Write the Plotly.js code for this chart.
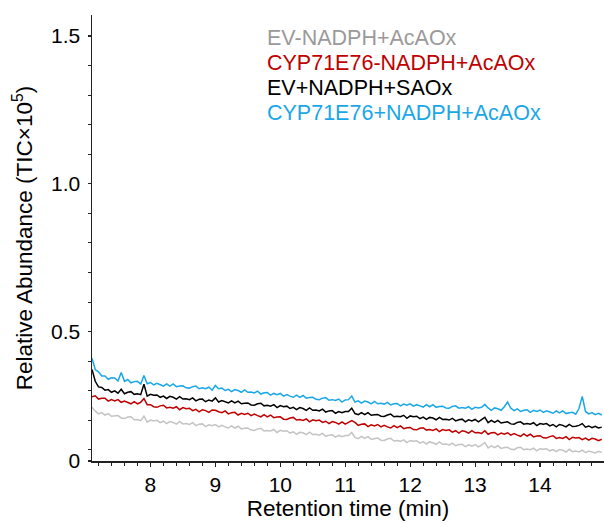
<!DOCTYPE html>
<html>
<head>
<meta charset="utf-8">
<script src="https://cdn.plot.ly/plotly-3.0.1.min.js"></script>
<style>html,body{margin:0;padding:0;background:#fff;}#chart{width:604px;height:523px;}</style>
</head>
<body>
<div id="chart"></div>
<script>
// Retention time grid: first point and step (min)
const timeStart = 7.10;
const timeStep = 0.05;

const seriesNames = ["EV-NADPH+AcAOx", "CYP71E76-NADPH+AcAOx", "EV+NADPH+SAOx", "CYP71E76+NADPH+AcAOx"];

// Relative abundance (TIC x 10^5), one value every 0.05 min from 7.10 min
const evNoNadph = [
  0.244,0.231,0.222,0.226,0.218,0.223,0.214,0.216,0.216,0.208,
  0.206,0.211,0.212,0.202,0.203,0.199,0.214,0.194,0.201,0.198,
  0.200,0.192,0.197,0.189,0.196,0.193,0.187,0.196,0.188,0.189,
  0.186,0.192,0.182,0.187,0.188,0.179,0.185,0.182,0.186,0.178,
  0.183,0.178,0.174,0.181,0.174,0.180,0.171,0.173,0.174,0.167,
  0.166,0.171,0.173,0.164,0.166,0.164,0.169,0.159,0.166,0.163,
  0.165,0.157,0.161,0.153,0.160,0.158,0.152,0.160,0.152,0.153,
  0.150,0.156,0.146,0.150,0.151,0.143,0.149,0.145,0.149,0.149,
  0.159,0.142,0.138,0.146,0.139,0.145,0.136,0.138,0.140,0.133,
  0.132,0.137,0.139,0.130,0.132,0.129,0.134,0.125,0.132,0.129,
  0.131,0.123,0.128,0.120,0.127,0.124,0.119,0.127,0.119,0.120,
  0.117,0.123,0.114,0.118,0.119,0.111,0.117,0.113,0.118,0.110,
  0.116,0.125,0.107,0.114,0.108,0.114,0.105,0.108,0.109,0.102,
  0.101,0.107,0.109,0.101,0.103,0.101,0.106,0.097,0.104,0.102,
  0.104,0.097,0.101,0.094,0.101,0.099,0.093,0.102,0.094,0.096,
  0.093,0.099,0.091,0.096,0.094,0.090,0.095,0.091
];
const cypNoNadph = [
  0.280,0.283,0.272,0.275,0.275,0.265,0.270,0.266,0.270,0.261,
  0.265,0.260,0.256,0.263,0.256,0.261,0.274,0.253,0.253,0.246,
  0.244,0.249,0.251,0.242,0.244,0.241,0.246,0.236,0.243,0.239,
  0.241,0.233,0.237,0.229,0.236,0.233,0.227,0.235,0.234,0.229,
  0.226,0.232,0.222,0.226,0.227,0.218,0.224,0.220,0.224,0.216,
  0.221,0.216,0.212,0.219,0.212,0.218,0.209,0.211,0.212,0.204,
  0.203,0.208,0.210,0.201,0.203,0.200,0.205,0.195,0.202,0.199,
  0.201,0.193,0.197,0.189,0.196,0.193,0.187,0.195,0.187,0.193,
  0.199,0.193,0.183,0.187,0.188,0.179,0.185,0.181,0.186,0.178,
  0.183,0.178,0.174,0.182,0.175,0.181,0.172,0.175,0.176,0.169,
  0.168,0.173,0.175,0.167,0.169,0.166,0.171,0.162,0.169,0.166,
  0.168,0.160,0.165,0.157,0.165,0.162,0.157,0.165,0.158,0.159,
  0.156,0.165,0.153,0.158,0.159,0.151,0.157,0.153,0.158,0.150,
  0.155,0.150,0.146,0.154,0.147,0.153,0.144,0.147,0.148,0.141,
  0.140,0.145,0.148,0.139,0.142,0.139,0.145,0.135,0.143,0.140,
  0.142,0.135,0.140,0.133,0.139,0.137,0.131,0.136
];
const evSaox = [
  0.372,0.332,0.313,0.311,0.302,0.304,0.295,0.300,0.292,0.305,
  0.290,0.295,0.297,0.288,0.290,0.287,0.322,0.282,0.288,0.285,
  0.286,0.278,0.282,0.274,0.281,0.278,0.272,0.280,0.272,0.273,
  0.270,0.276,0.266,0.271,0.272,0.263,0.269,0.265,0.276,0.262,
  0.267,0.262,0.259,0.266,0.259,0.265,0.256,0.258,0.259,0.252,
  0.251,0.256,0.258,0.249,0.251,0.248,0.253,0.243,0.250,0.246,
  0.248,0.240,0.244,0.236,0.243,0.240,0.234,0.242,0.234,0.235,
  0.232,0.238,0.228,0.232,0.233,0.224,0.230,0.226,0.230,0.230,
  0.241,0.223,0.219,0.226,0.219,0.226,0.217,0.219,0.220,0.214,
  0.213,0.218,0.221,0.212,0.214,0.212,0.217,0.207,0.215,0.212,
  0.214,0.206,0.211,0.203,0.210,0.208,0.202,0.210,0.203,0.204,
  0.201,0.207,0.198,0.202,0.204,0.195,0.202,0.198,0.203,0.195,
  0.203,0.210,0.192,0.200,0.193,0.200,0.191,0.193,0.195,0.188,
  0.187,0.193,0.195,0.187,0.189,0.187,0.192,0.182,0.189,0.187,
  0.189,0.181,0.186,0.178,0.186,0.183,0.178,0.186,0.179,0.180,
  0.183,0.189,0.177,0.181,0.175,0.180,0.174,0.177
];
const cypNadph = [
  0.410,0.372,0.364,0.350,0.350,0.339,0.344,0.343,0.333,0.362,
  0.332,0.338,0.327,0.331,0.332,0.323,0.352,0.324,0.328,0.320,
  0.325,0.320,0.316,0.323,0.316,0.323,0.314,0.316,0.317,0.310,
  0.309,0.314,0.316,0.307,0.310,0.307,0.312,0.302,0.318,0.307,
  0.309,0.301,0.305,0.297,0.304,0.301,0.295,0.303,0.295,0.296,
  0.293,0.299,0.289,0.293,0.294,0.285,0.291,0.287,0.291,0.282,
  0.287,0.282,0.278,0.285,0.278,0.284,0.275,0.277,0.278,0.271,
  0.270,0.275,0.277,0.268,0.270,0.267,0.272,0.262,0.269,0.270,
  0.282,0.262,0.266,0.258,0.265,0.262,0.256,0.264,0.256,0.258,
  0.255,0.261,0.252,0.256,0.257,0.249,0.255,0.251,0.256,0.248,
  0.253,0.249,0.245,0.253,0.246,0.253,0.244,0.247,0.248,0.242,
  0.241,0.247,0.249,0.241,0.243,0.241,0.246,0.237,0.244,0.242,
  0.244,0.254,0.242,0.234,0.242,0.239,0.234,0.246,0.262,0.241,
  0.233,0.239,0.230,0.234,0.236,0.227,0.234,0.230,0.235,0.227,
  0.232,0.228,0.224,0.232,0.225,0.232,0.223,0.226,0.227,0.221,
  0.240,0.281,0.230,0.222,0.226,0.219,0.224,0.218
];

const xTickVals = [8, 9, 10, 11, 12, 13, 14];
const yTickVals = [0.0625, 0.5, 1.0, 1.5];
const yTickText = ["0", "0.5", "1.0", "1.5"];

const lineColors = ["#c4c4c4", "#c00000", "#000000", "#1aa7e8"];
const textColors = ["#9a9a9a", "#c00000", "#000000", "#1aa7e8"];
const allSeries = [evNoNadph, cypNoNadph, evSaox, cypNadph];

const FONT = "Arial, 'Liberation Sans', Helvetica, sans-serif";

const traces = allSeries.map((ys, i) => ({
  type: "scatter",
  mode: "lines",
  name: seriesNames[i],
  x0: timeStart,
  dx: timeStep,
  y: ys,
  line: {color: lineColors[i], width: 1.5},
  hoverinfo: "skip"
}));

const legendY = [0.9478, 0.8917, 0.8357, 0.7796];
const annotations = seriesNames.map((n, i) => ({
  xref: "paper", yref: "paper",
  x: 0.337, y: legendY[i],
  xanchor: "left", yanchor: "middle",
  text: n, showarrow: false,
  font: {family: FONT, size: 21.5, color: textColors[i]}
}));

const layout = {
  width: 604, height: 523,
  margin: {l: 92, r: 0, t: 15, b: 62, pad: 0},
  paper_bgcolor: "#ffffff",
  plot_bgcolor: "#ffffff",
  showlegend: false,
  font: {family: FONT, color: "#000"},
  annotations: annotations,
  xaxis: {
    range: [7.1, 14.985],
    tickmode: "array",
    tickvals: xTickVals,
    ticktext: xTickVals.map(String),
    ticks: "outside", ticklen: 4, tickwidth: 1.2, tickcolor: "#222",
    minor: {tickmode: "linear", tick0: 8, dtick: 0.2, ticks: "outside", ticklen: 3, tickwidth: 1, tickcolor: "#222"},
    showline: true, linecolor: "#222", linewidth: 1.5,
    showgrid: false, zeroline: false,
    tickfont: {family: FONT, size: 21, color: "#000"},
    title: {text: "Retention time (min)", font: {family: FONT, size: 22.5, color: "#000"}, standoff: 5},
    automargin: false
  },
  yaxis: {
    range: [0.0625, 1.571],
    tickmode: "array",
    tickvals: yTickVals,
    ticktext: yTickText,
    ticks: "outside", ticklen: 3, tickwidth: 1.2, tickcolor: "#222",
    ticklabelstandoff: 3,
    minor: {tickmode: "linear", tick0: 0, dtick: 0.1, ticks: "outside", ticklen: 3, tickwidth: 1, tickcolor: "#222"},
    showline: true, linecolor: "#222", linewidth: 1.5,
    showgrid: false, zeroline: false,
    tickfont: {family: FONT, size: 21, color: "#000"},
    title: {text: "Relative Abundance (TIC×10<sup>5</sup>)", font: {family: FONT, size: 22.5, color: "#000"}, standoff: 12},
    automargin: false
  }
};

Plotly.newPlot("chart", traces, layout, {staticPlot: true, displayModeBar: false});
</script>
</body>
</html>
